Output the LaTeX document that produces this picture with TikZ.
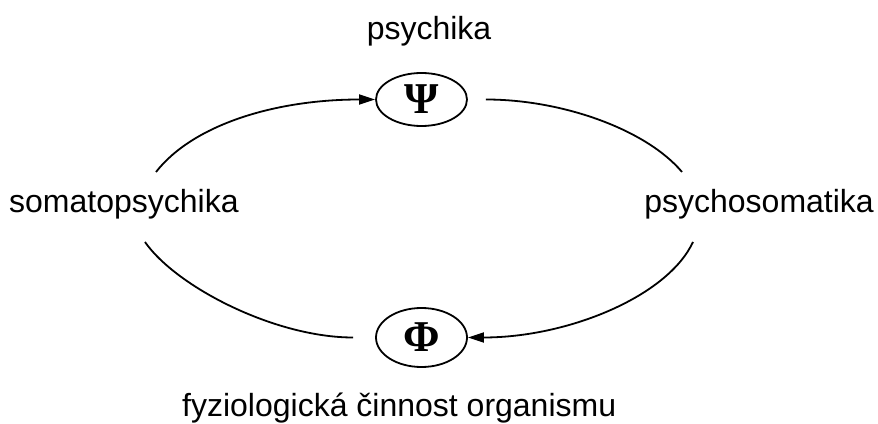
\documentclass[tikz,border=0pt]{standalone}
\usepackage{fontspec}
\setmainfont{Liberation Sans}
\newfontfamily\greekserif{Liberation Serif}
\usetikzlibrary{arrows.meta,shapes.geometric}
\tikzset{ovl/.style={ellipse,draw,line width=1.8pt,minimum width=91pt,minimum height=53pt,inner sep=0pt,font=\greekserif\bfseries\fontsize{44}{44}\selectfont}}
\tikzset{lbl/.style={inner sep=0pt,font=\fontsize{32}{38}\selectfont}}
\tikzset{ln/.style={line width=1.8pt}}

\begin{document}
\begin{tikzpicture}[x=1pt,y=1pt,>={Triangle[length=16pt,width=10pt]}]
    \useasboundingbox (0,0) rectangle (878,423);
    \node[ovl] (psi) at (421.5,323.5) {Ψ};
    \node[ovl,minimum height=59pt] (phi) at (421.5,85.5) {Φ};
    \node[lbl,anchor=base] (t) at (429,383) {psychika};
    \node[lbl,anchor=base west] (l) at (9,210) {somatopsychika};
    \node[lbl,anchor=base east] (r) at (874,210) {psychosomatika};
    \node[lbl,anchor=base west] (b) at (182,7) {fyziologická činnost organismu};

    \coordinate (c1) at (156,251);
    \coordinate (c2) at (682,251);
    \coordinate (c3) at (693,181);
    \coordinate (c4) at (145,181);

    \draw [ln,->] (c1) to [out=52,in=180,out distance=60pt,in distance=100pt] (psi);
    \draw [ln,shorten <=18pt] (psi) to [out=0,in=130,out distance=95pt,in distance=55pt] (c2);
    \draw [ln,->] (c3) to [out=245,in=0,out distance=60pt,in distance=100pt] (phi);
    \draw [ln,shorten >=22pt] (c4) to [out=305,in=180,out distance=55pt,in distance=100pt] (phi);
\end{tikzpicture}
\end{document}
